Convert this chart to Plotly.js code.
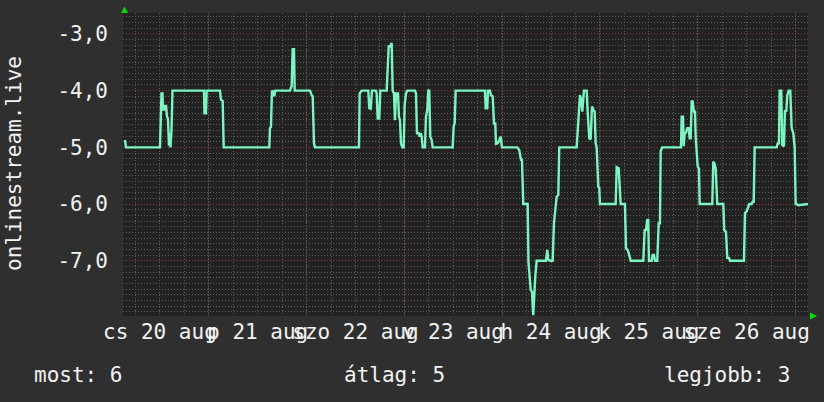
<!DOCTYPE html>
<html>
<head>
<meta charset="utf-8">
<script src="https://cdn.plot.ly/plotly-3.0.1.min.js"></script>
<style>html,body{margin:0;padding:0;background:#2f2f2f;}#chart{width:824px;height:402px;}</style>
</head>
<body>
<div id="chart"></div>
<script>
// hours since Thu 20 Aug 00:00
const hours = [3.44,3.68,12.02,12.39,12.64,12.76,13.01,13.25,13.50,13.74,13.99,14.23,14.48,14.60,14.85,15.09,
22.82,22.94,23.31,23.48,26.75,26.99,27.41,27.66,38.85,39.02,39.26,39.51,39.83,40.07,40.32,43.93,44.10,44.34,44.59,44.91,45.08,
48.83,49.25,49.50,49.82,50.06,60.86,61.03,61.52,63.14,63.39,63.73,64.05,65.03,65.20,65.45,65.84,66.09,67.66,67.90,68.15,68.47,68.71,68.88,69.13,
69.45,69.69,69.94,70.43,70.67,70.92,71.17,71.48,71.83,72.07,72.39,72.71,74.60,74.85,75.09,75.51,75.76,76.00,76.25,76.49,77.06,77.30,77.62,77.87,78.11,78.36,78.70,78.94,
83.85,84.10,84.34,84.59,91.78,91.95,92.34,92.52,93.01,93.25,93.67,93.99,94.31,94.48,94.90,95.29,95.63,95.95,99.71,100.20,100.61,100.86,101.18,102.26,
102.45,102.99,103.31,103.63,103.88,104.12,104.47,106.75,107.07,107.31,107.73,108.39,108.71,109.03,109.37,109.77,110.01,114.28,114.53,114.85,115.09,115.41,115.66,116.07,
116.74,116.98,117.37,117.72,118.04,118.36,118.70,118.94,119.19,119.58,119.83,120.00,123.85,124.10,124.59,125.08,126.13,126.38,126.80,127.19,127.53,
130.63,130.97,131.29,131.61,131.85,132.02,132.69,132.93,133.25,133.50,134.06,134.41,134.72,134.90,135.29,139.88,140.05,140.37,140.54,140.79,141.10,141.42,141.77,142.01,142.26,
142.50,142.75,143.07,143.31,143.48,143.98,144.29,144.47,147.56,147.81,148.05,148.39,148.79,150.26,150.50,150.92,151.24,151.66,151.90,155.34,155.58,156.00,156.39,156.63,
157.22,157.47,157.72,157.96,163.36,163.61,163.93,164.10,164.49,164.74,165.15,165.40,165.72,165.96,166.31,166.70,167.04,167.44,167.78,168.02,168.27,168.66,171.04];
const values = [-4.87,-5.0,-5.0,-4.05,-4.05,-4.35,-4.25,-4.35,-4.25,-4.45,-4.5,-4.97,-4.75,-5.0,-4.7,-4.0,
-4.0,-4.4,-4.4,-4.0,-4.0,-4.16,-4.18,-5.0,-5.0,-4.66,-4.64,-4.0,-4.02,-4.1,-4.0,-4.0,-3.96,-3.92,-3.27,-3.27,-4.0,
-4.0,-4.08,-4.1,-4.93,-5.0,-5.0,-4.05,-4.0,-4.0,-4.31,-4.32,-4.0,-4.0,-4.05,-4.49,-4.49,-4.0,-4.0,-3.64,-3.22,-3.22,-3.16,-3.16,-4.0,
-4.05,-4.52,-4.05,-4.05,-4.46,-4.52,-4.93,-5.0,-5.0,-4.25,-4.05,-4.0,-4.0,-4.05,-4.75,-4.75,-4.81,-4.75,-4.81,-5.0,-5.0,-4.46,-4.34,-4.0,-4.0,-4.81,-4.87,-5.0,
-5.0,-4.63,-4.57,-4.0,-4.0,-4.31,-4.31,-4.0,-4.0,-4.08,-4.1,-4.58,-4.58,-4.94,-4.93,-4.87,-4.81,-5.0,-5.0,-5.05,-5.22,-5.22,-6.0,-6.0,
-7.02,-7.51,-7.55,-7.96,-7.55,-7.28,-7.0,-7.0,-6.81,-6.98,-7.0,-7.0,-6.34,-6.05,-5.87,-5.84,-5.0,-5.0,-4.66,-4.4,-4.08,-4.16,-4.37,-4.0,
-4.0,-4.37,-4.84,-4.86,-4.28,-4.34,-4.37,-4.93,-5.0,-5.69,-5.72,-6.0,-6.0,-5.35,-5.37,-6.0,-6.0,-6.78,-6.81,-6.9,-7.0,
-7.0,-6.46,-6.46,-6.28,-6.28,-7.0,-7.0,-6.9,-6.9,-7.0,-7.0,-6.34,-6.34,-5.07,-5.0,-5.0,-4.46,-4.46,-4.98,-4.75,-4.74,-4.66,-4.66,-4.84,-4.84,
-4.19,-4.19,-4.37,-4.37,-4.81,-5.34,-5.37,-6.0,-6.0,-5.25,-5.28,-5.37,-6.0,-6.0,-6.46,-6.49,-6.95,-6.95,-7.0,-7.0,-6.16,-6.13,-6.05,-6.0,
-6.0,-5.96,-5.96,-5.0,-5.0,-4.93,-4.93,-4.0,-4.0,-4.96,-4.98,-4.34,-4.37,-4.08,-4.0,-4.0,-4.66,-4.75,-5.0,-6.0,-6.0,-6.02,-6.0];

const dayTickVals = [12,36,60,84,108,132,156];
const dayTickText = ['cs 20 aug','p 21 aug','szo 22 aug','v 23 aug','h 24 aug','k 25 aug','sze 26 aug'];
const midnights = [24,48,72,96,120,144,168];
const yTickVals = [-3,-4,-5,-6,-7];
const yTickText = ['-3,0','-4,0','-5,0','-6,0','-7,0'];
const seriesName = 'onlinestream.live';
const legendItems = ['most: 6','átlag: 5','legjobb: 3'];

const W = 824, H = 402, L = 123, R = 808, T = 13, B = 316;
const pw = R - L, ph = B - T;
const px = x => (x - L) / pw;
const py = y => (B - y) / ph;
const FONT = 'DejaVu Sans Mono, monospace';
const MAJOR = '#8c3a3a', MINOR = '#5e5e5e', DOTS = '1px,2px';

const shapes = midnights.map(m => ({
  type: 'line', xref: 'x', yref: 'paper', x0: m, x1: m, y0: 0, y1: 1,
  line: {color: MAJOR, width: 1, dash: DOTS}, layer: 'between'
}));
shapes.push({type:'path', xref:'paper', yref:'paper', fillcolor:'#00dd00', line:{width:0},
  path:`M ${px(121)} ${py(13)} L ${px(128)} ${py(13)} L ${px(124.5)} ${py(6.5)} Z`});
shapes.push({type:'path', xref:'paper', yref:'paper', fillcolor:'#00dd00', line:{width:0},
  path:`M ${px(810)} ${py(312.5)} L ${px(810)} ${py(319.5)} L ${px(817)} ${py(316)} Z`});

const legX = [32, 342, 662];
const annotations = legendItems.map((t, i) => ({
  text: t, xref: 'paper', yref: 'paper', x: px(legX[i]), y: py(375), xanchor: 'left', yanchor: 'middle',
  showarrow: false, font: {family: FONT, size: 21, color: '#f2f2f2'}
}));
annotations.push({text: seriesName, xref:'paper', yref:'paper', x: px(14), y: py(163), textangle: -90,
  xanchor:'center', yanchor:'middle', showarrow:false, font:{family: FONT, size: 21, color:'#f2f2f2'}});

Plotly.newPlot('chart', [{
  x: hours, y: values, type: 'scatter', mode: 'lines',
  line: {color: '#7df5c2', width: 2.4}, hoverinfo: 'skip'
}], {
  width: W, height: H,
  margin: {l: L, r: W - R, t: T, b: H - B, pad: 0},
  paper_bgcolor: '#2f2f2f', plot_bgcolor: '#222222',
  showlegend: false,
  xaxis: {
    range: [2.95, 171.05], tickmode: 'array', tickvals: dayTickVals, ticktext: dayTickText,
    tickangle: 0, showgrid: false, zeroline: false, showline: false, ticks: '',
    ticklabelstandoff: 1,
    tickfont: {family: FONT, size: 21, color: '#f2f2f2'},
    minor: {tickmode: 'linear', tick0: 0, dtick: 6, showgrid: true, gridcolor: MINOR, griddash: DOTS, gridwidth: 1, ticks: ''}
  },
  yaxis: {
    range: [-7.975, -2.63], tickmode: 'array', tickvals: yTickVals, ticktext: yTickText,
    showgrid: true, gridcolor: MAJOR, griddash: DOTS, gridwidth: 1, zeroline: false, showline: false, ticks: '',
    ticklabelstandoff: 14,
    tickfont: {family: FONT, size: 21, color: '#f2f2f2'},
    minor: {tickmode: 'linear', tick0: 0, dtick: 0.1, showgrid: true, gridcolor: MINOR, griddash: DOTS, gridwidth: 1, ticks: ''}
  },
  shapes: shapes,
  annotations: annotations
}, {staticPlot: true, displayModeBar: false});
</script>
</body>
</html>
